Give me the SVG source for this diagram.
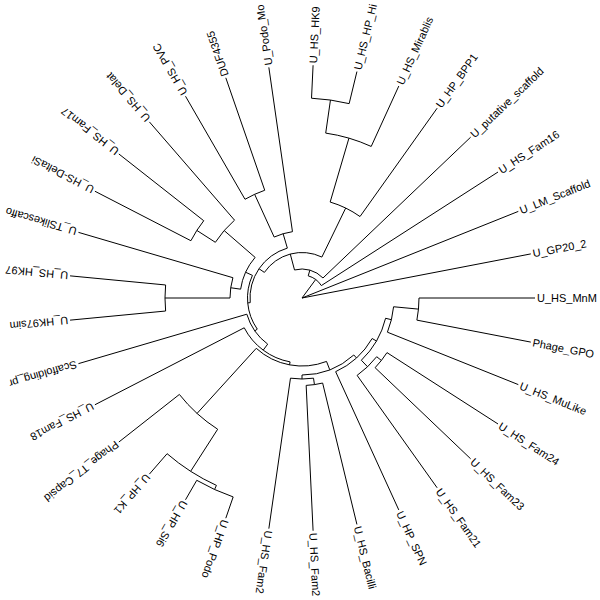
<svg xmlns="http://www.w3.org/2000/svg" width="600" height="600" viewBox="0 0 600 600">
<style>
.e{fill:none;stroke:#000;stroke-width:1}
text{font-family:"Liberation Sans",Arial,Helvetica,sans-serif;font-size:11px;fill:#000}
</style>
<rect width="600" height="600" fill="#fff"/>
<g id="connectors" class="e">
<path d="M302,298L530.79,253.90M302,298L518.31,211.40M302,298L315.68,279.51"/>
<path d="M308.23,275.86A23,23 0 0 1 321.35,285.57M321.35,285.57L498.01,172.03M308.23,275.86L309.86,270.08"/>
<path d="M294.53,269.98A29,29 0 0 1 322.99,277.99M322.99,277.99L470.63,137.21M294.53,269.98L290.28,254.04"/>
<path d="M264.39,272.40A45.5,45.5 0 0 1 321.88,257.07M264.39,272.40L259.01,268.74M321.88,257.07L345.69,208.05"/>
<path d="M330.17,202.05A100,100 0 0 1 360.01,216.54M360.01,216.54L437.15,108.20M330.17,202.05L348.94,138.15"/>
<path d="M325.71,133.10A166.6,166.6 0 0 1 371.21,146.45M371.21,146.45L398.79,86.05M325.71,133.10L330.46,100.04"/>
<path d="M311.52,98.23A200,200 0 0 1 349.15,103.64M311.52,98.23L313.09,65.26M349.15,103.64L356.93,71.56"/>
<path d="M250.21,302.67A52,52 0 0 1 287.35,248.11M250.21,302.67L247.72,302.90M287.35,248.11L283.12,233.71"/>
<path d="M274.17,237.05A67,67 0 0 1 292.47,231.68M292.47,231.68L268.85,67.37M274.17,237.05L254.64,194.30"/>
<path d="M245.00,199.27A114,114 0 0 1 264.72,190.27M245.00,199.27L185.50,96.22M264.72,190.27L225.80,77.81"/>
<path d="M257.28,329.15A54.5,54.5 0 0 1 252.43,275.36M257.28,329.15L254.82,330.86M252.43,275.36L245.60,272.24"/>
<path d="M240.63,289.18A62,62 0 0 1 255.14,257.40M240.63,289.18L230.73,287.75M255.14,257.40L224.16,230.55"/>
<path d="M230,298A72,72 0 0 1 232.92,277.71M232.92,277.71L78.44,232.35M230,298L165,298"/>
<path d="M165.62,311.02A137,137 0 0 1 165.62,284.98M165.62,311.02L70.06,320.15M165.62,284.98L70.06,275.85"/>
<path d="M215.35,242.31A103,103 0 0 1 234.55,220.16M234.55,220.16L149.42,121.91M215.35,242.31L196.84,230.42"/>
<path d="M190.90,240.72A125,125 0 0 1 203.74,220.73M190.90,240.72L94.90,191.23M203.74,220.73L118.85,153.96"/>
<path d="M267.68,344.13A57.5,57.5 0 0 1 246.83,314.20M246.83,314.20L78.44,363.65M267.68,344.13L263.20,350.15"/>
<path d="M290.08,361.90A65,65 0 0 1 244.23,327.79M244.23,327.79L94.90,404.77M290.08,361.90L289.53,364.85"/>
<path d="M326.52,361.43A68,68 0 0 1 256.26,348.32M256.26,348.32L197.06,413.43M326.52,361.43L329.77,369.82"/>
<path d="M217.66,429.24A156,156 0 0 1 179.38,394.44M179.38,394.44L118.85,442.04M217.66,429.24L190.63,471.30"/>
<path d="M216.42,485.39A206,206 0 0 1 167.10,453.69M167.10,453.69L149.42,474.09M216.42,485.39L214.55,489.48"/>
<path d="M233.16,496.93A210.5,210.5 0 0 1 196.75,480.30M233.16,496.93L225.80,518.19M196.75,480.30L185.50,499.78"/>
<path d="M353.80,354.98A77,77 0 0 1 302,375M353.80,354.98L356.49,357.94M302,375L302,379"/>
<path d="M313.53,378.18A81,81 0 0 1 290.47,378.18M290.47,378.18L268.85,528.63M313.53,378.18L314.45,384.61"/>
<path d="M322.63,383.04A87.5,87.5 0 0 1 306.17,385.40M322.63,383.04L356.93,524.44M306.17,385.40L313.09,530.74"/>
<path d="M372.15,338.50A81,81 0 0 1 335.65,371.68M335.65,371.68L398.79,509.95M372.15,338.50L376.48,341.00"/>
<path d="M385.58,318.28A86,86 0 0 1 361.35,360.24M385.58,318.28L391.41,319.69M361.35,360.24L367.56,366.76"/>
<path d="M393.58,306.75A92,92 0 0 1 387.41,332.19M387.41,332.19L518.31,384.60M393.58,306.75L418.47,309.12"/>
<path d="M419,298A117,117 0 0 1 416.89,320.14M419,298L535,298M416.89,320.14L530.79,342.10"/>
<path d="M376.68,356.73A95,95 0 0 1 357.11,375.39M357.11,375.39L437.15,487.80M376.68,356.73L381.39,360.44"/>
<path d="M386.97,352.61A101,101 0 0 1 375.10,367.70M386.97,352.61L498.01,423.97M375.10,367.70L470.63,458.79"/>
</g>
<g id="tip-U_HS_MnM"><text transform="translate(535,298) rotate(0)" x="2" dy="0.35em">U_HS_MnM</text></g>
<g id="tip-Phage_GPO"><text transform="translate(530.79,342.10) rotate(10.909)" x="2" dy="0.35em">Phage_GPO</text></g>
<g id="tip-U_HS_MuLike"><text transform="translate(518.31,384.60) rotate(21.818)" x="2" dy="0.35em">U_HS_MuLike</text></g>
<g id="tip-U_HS_Fam24"><text transform="translate(498.01,423.97) rotate(32.727)" x="2" dy="0.35em">U_HS_Fam24</text></g>
<g id="tip-U_HS_Fam23"><text transform="translate(470.63,458.79) rotate(43.636)" x="2" dy="0.35em">U_HS_Fam23</text></g>
<g id="tip-U_HS_Fam21"><text transform="translate(437.15,487.80) rotate(54.545)" x="2" dy="0.35em">U_HS_Fam21</text></g>
<g id="tip-U_HP_SPN"><text transform="translate(398.79,509.95) rotate(65.455)" x="2" dy="0.35em">U_HP_SPN</text></g>
<g id="tip-U_HS_Bacilli"><text transform="translate(356.93,524.44) rotate(76.364)" x="2" dy="0.35em">U_HS_Bacilli</text></g>
<g id="tip-U_HS_Fam2-a"><text transform="translate(313.09,530.74) rotate(87.273)" x="2" dy="0.35em">U_HS_Fam2</text></g>
<g id="tip-U_HS_Fam2-b"><text transform="translate(268.85,528.63) rotate(98.182)" x="2" dy="0.35em">U_HS_Fam2</text></g>
<g id="tip-U_HP_Podo"><text transform="translate(225.80,518.19) rotate(109.091)" x="2" dy="0.35em">U_HP_Podo</text></g>
<g id="tip-U_HP_Si6"><text transform="translate(185.50,499.78) rotate(120)" x="2" dy="0.35em">U_HP_Si6</text></g>
<g id="tip-U_HP_K1"><text transform="translate(149.42,474.09) rotate(130.909)" x="2" dy="0.35em">U_HP_K1</text></g>
<g id="tip-Phage_T7_Capsid"><text transform="translate(118.85,442.04) rotate(141.818)" x="2" dy="0.35em">Phage_T7_Capsid</text></g>
<g id="tip-U_HS_Fam18"><text transform="translate(94.90,404.77) rotate(152.727)" x="2" dy="0.35em">U_HS_Fam18</text></g>
<g id="tip-Scaffolding_pr"><text transform="translate(78.44,363.65) rotate(163.636)" x="2" dy="0.35em">Scaffolding_pr</text></g>
<g id="tip-U_HK97sim"><text transform="translate(70.06,320.15) rotate(174.545)" x="2" dy="0.35em">U_HK97sim</text></g>
<g id="tip-U_HS_HK97"><text transform="translate(70.06,275.85) rotate(185.455)" x="2" dy="0.35em">U_HS_HK97</text></g>
<g id="tip-U_TSlikescaffo"><text transform="translate(78.44,232.35) rotate(196.364)" x="2" dy="0.35em">U_TSlikescaffo</text></g>
<g id="tip-U_HS-DeltaSi"><text transform="translate(94.90,191.23) rotate(207.273)" x="2" dy="0.35em">U_HS-DeltaSi</text></g>
<g id="tip-U_HS_Fam17"><text transform="translate(118.85,153.96) rotate(218.182)" x="2" dy="0.35em">U_HS_Fam17</text></g>
<g id="tip-U_HS_Delat"><text transform="translate(149.42,121.91) rotate(229.091)" x="2" dy="0.35em">U_HS_Delat</text></g>
<g id="tip-U_HS_PVC"><text transform="translate(185.50,96.22) rotate(240)" x="2" dy="0.35em">U_HS_PVC</text></g>
<g id="tip-DUF4355"><text transform="translate(225.80,77.81) rotate(250.909)" x="2" dy="0.35em">DUF4355</text></g>
<g id="tip-U_Podo_Mo"><text transform="translate(268.85,67.37) rotate(261.818)" x="2" dy="0.35em">U_Podo_Mo</text></g>
<g id="tip-U_HS_HK9"><text transform="translate(313.09,65.26) rotate(272.727)" x="2" dy="0.35em">U_HS_HK9</text></g>
<g id="tip-U_HS_HP_Hi"><text transform="translate(356.93,71.56) rotate(283.636)" x="2" dy="0.35em">U_HS_HP_Hi</text></g>
<g id="tip-U_HS_Mirablis"><text transform="translate(398.79,86.05) rotate(294.545)" x="2" dy="0.35em">U_HS_Mirablis</text></g>
<g id="tip-U_HP_BPP1"><text transform="translate(437.15,108.20) rotate(305.455)" x="2" dy="0.35em">U_HP_BPP1</text></g>
<g id="tip-U_putative_scaffold"><text transform="translate(470.63,137.21) rotate(316.364)" x="2" dy="0.35em">U_putative_scaffold</text></g>
<g id="tip-U_HS_Fam16"><text transform="translate(498.01,172.03) rotate(327.273)" x="2" dy="0.35em">U_HS_Fam16</text></g>
<g id="tip-U_LM_Scaffold"><text transform="translate(518.31,211.40) rotate(338.182)" x="2" dy="0.35em">U_LM_Scaffold</text></g>
<g id="tip-U_GP20_2"><text transform="translate(530.79,253.90) rotate(349.091)" x="2" dy="0.35em">U_GP20_2</text></g>
</svg>
